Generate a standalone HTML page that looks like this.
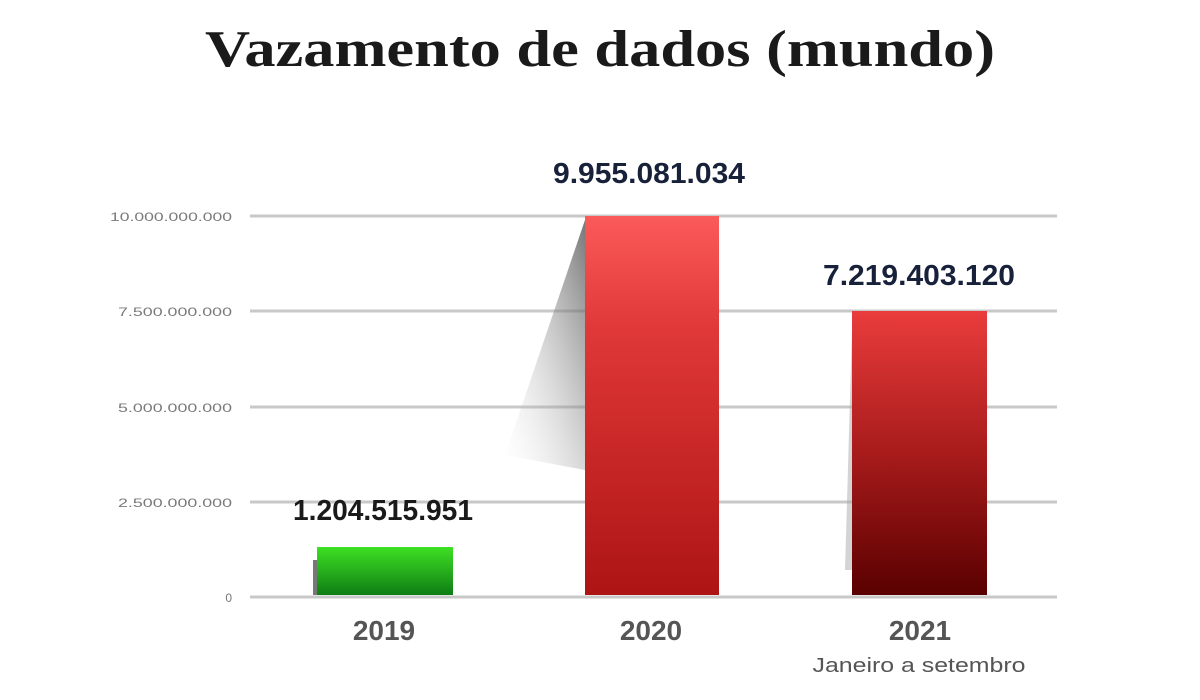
<!DOCTYPE html>
<html><head><meta charset="utf-8"><style>html,body{margin:0;padding:0;background:#fff;}svg{display:block}</style></head>
<body>
<svg width="1200" height="700" viewBox="0 0 1200 700" xmlns="http://www.w3.org/2000/svg">
<defs>
<linearGradient id="g19" x1="0" y1="0" x2="0" y2="1"><stop offset="0" stop-color="#3fe024"/><stop offset="1" stop-color="#0e7d14"/></linearGradient>
<linearGradient id="g20" x1="0" y1="0" x2="0" y2="1"><stop offset="0" stop-color="#fb5a5a"/><stop offset="0.3" stop-color="#e03838"/><stop offset="1" stop-color="#ad1414"/></linearGradient>
<linearGradient id="g21" x1="0" y1="0" x2="0" y2="1"><stop offset="0" stop-color="#ea3c3c"/><stop offset="0.5" stop-color="#a81b1b"/><stop offset="1" stop-color="#5a0000"/></linearGradient>
<linearGradient id="sh" x1="1" y1="0" x2="0" y2="1"><stop offset="0" stop-color="#555" stop-opacity="0.8"/><stop offset="1" stop-color="#ddd" stop-opacity="0"/></linearGradient>
</defs>
<text x="600" y="66" text-anchor="middle" font-family="Liberation Serif, serif" font-weight="bold" font-size="52" fill="#1a1a1a" textLength="790" lengthAdjust="spacingAndGlyphs">Vazamento de dados (mundo)</text>
<g stroke="#c8c8c8" stroke-width="3">
<line x1="250" y1="216" x2="1057" y2="216"/><line x1="250" y1="311" x2="1057" y2="311"/><line x1="250" y1="407" x2="1057" y2="407"/><line x1="250" y1="502" x2="1057" y2="502"/><line x1="250" y1="597" x2="1057" y2="597"/>
</g>
<g font-family="Liberation Sans, sans-serif" font-size="12" fill="#7a7a7a" text-anchor="end">
<text x="232" y="221" textLength="122" lengthAdjust="spacingAndGlyphs">10.000.000.000</text>
<text x="232" y="316" textLength="114" lengthAdjust="spacingAndGlyphs">7.500.000.000</text>
<text x="232" y="412" textLength="114" lengthAdjust="spacingAndGlyphs">5.000.000.000</text>
<text x="232" y="507" textLength="114" lengthAdjust="spacingAndGlyphs">2.500.000.000</text>
<text x="232" y="602">0</text>
</g>
<polygon points="585,220 585,470 505,455" fill="url(#sh)"/>
<polygon points="852,330 852,570 845,570" fill="#aaa" opacity="0.5"/>
<rect x="313" y="560" width="6" height="35" fill="#777"/>
<rect x="317" y="547" width="136" height="48" fill="url(#g19)"/>
<rect x="585" y="216" width="134" height="379" fill="url(#g20)"/>
<rect x="852" y="311" width="135" height="284" fill="url(#g21)"/>
<g font-family="Liberation Sans, sans-serif" font-weight="bold" font-size="29" text-anchor="middle">
<text x="649" y="183" fill="#18213a" textLength="192" lengthAdjust="spacingAndGlyphs">9.955.081.034</text>
<text x="919" y="285" fill="#18213a" textLength="192" lengthAdjust="spacingAndGlyphs">7.219.403.120</text>
<text x="383" y="520" fill="#1a1a1a" textLength="180" lengthAdjust="spacingAndGlyphs">1.204.515.951</text>
</g>
<g font-family="Liberation Sans, sans-serif" font-weight="bold" font-size="28" fill="#555" text-anchor="middle">
<text x="384" y="640">2019</text><text x="651" y="640">2020</text><text x="920" y="640">2021</text>
</g>
<text x="919" y="672" font-family="Liberation Sans, sans-serif" font-size="20" fill="#555" text-anchor="middle" textLength="213" lengthAdjust="spacingAndGlyphs">Janeiro a setembro</text>
</svg>
</body></html>
